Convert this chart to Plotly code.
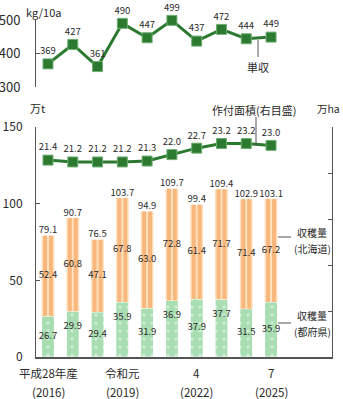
import plotly.graph_objects as go

# ---- data -------------------------------------------------------------
years = [2016, 2017, 2018, 2019, 2020, 2021, 2022, 2023, 2024, 2025]
yield_kg = [369, 427, 361, 490, 447, 499, 437, 472, 444, 449]          # kg/10a
area_10kha = [21.4, 21.2, 21.2, 21.2, 21.3, 22.0, 22.7, 23.2, 23.2, 23.0]  # 万ha
harvest_hokkaido = [52.4, 60.8, 47.1, 67.8, 63.0, 72.8, 61.4, 71.7, 71.4, 67.2]  # 万t
harvest_prefs = [26.7, 29.9, 29.4, 35.9, 31.9, 36.9, 37.9, 37.7, 31.5, 35.9]     # 万t
harvest_total = [79.1, 90.7, 76.5, 103.7, 94.9, 109.7, 99.4, 109.4, 102.9, 103.1]

tick_pos = [0, 3, 6, 9]
tick_era = ["平成28年産", "令和元", "4", "7"]
tick_year = ["(2016)", "(2019)", "(2022)", "(2025)"]

# ---- styling ----------------------------------------------------------
W, H = 343, 399
FONT = "Noto Sans CJK JP"
TXT = "#2a2a2a"
AX = "#555555"
GREEN_LINE = "#2B7A30"
GREEN_BAR = "#A9DDB2"
ORANGE_BAR = "#F8B77C"
ORANGE_LIGHT = "#FEE0BE"
BAR_W = 0.52          # bar width in category units
STRIPE_W = 0.16       # darker stripes inside the Hokkaido bars
# every other prefecture label sits higher up in its bar
pref_label_raised = [False, True, False, True, False, True, False, True, False, False]


def px(x):
    return x / W


def py(y):
    return 1 - y / H


x = list(range(len(years)))
fig = go.Figure()

# prefectures (bottom segment) with a light dot texture
fig.add_trace(go.Bar(
    x=x, y=harvest_prefs, width=BAR_W, yaxis="y",
    marker=dict(color=GREEN_BAR, line=dict(color="white", width=1),
                pattern=dict(shape=".", fgcolor="white", bgcolor=GREEN_BAR,
                             size=8, solidity=0.12)),
    hoverinfo="skip", showlegend=False))
# Hokkaido (upper segment): pale body with two orange stripes
fig.add_trace(go.Bar(
    x=x, y=harvest_hokkaido, base=harvest_prefs, width=BAR_W, yaxis="y",
    marker=dict(color=ORANGE_LIGHT, line=dict(width=0)),
    hoverinfo="skip", showlegend=False))
for off in (-0.2, 0.04):
    fig.add_trace(go.Bar(
        x=x, y=harvest_hokkaido, base=harvest_prefs, width=STRIPE_W, offset=off,
        yaxis="y", marker=dict(color=ORANGE_BAR, line=dict(width=0)),
        hoverinfo="skip", showlegend=False))

# bar value labels
pref_label_y = [v - 10 if r else v / 2 for v, r in zip(harvest_prefs, pref_label_raised)]
hok_label_y = [p + h / 2 for p, h in zip(harvest_prefs, harvest_hokkaido)]
label_font = dict(family=FONT, size=9.5, color=TXT)
fig.add_trace(go.Scatter(x=x, y=pref_label_y, mode="text", yaxis="y",
                         text=[f"{v:.1f}" for v in harvest_prefs],
                         textfont=label_font, hoverinfo="skip", showlegend=False,
                         cliponaxis=False))
fig.add_trace(go.Scatter(x=x, y=hok_label_y, mode="text", yaxis="y",
                         text=[f"{v:.1f}" for v in harvest_hokkaido],
                         textfont=label_font, hoverinfo="skip", showlegend=False,
                         cliponaxis=False))
fig.add_trace(go.Scatter(x=x, y=harvest_total, mode="text", yaxis="y",
                         text=[f"{v:.1f}" for v in harvest_total],
                         textposition="top center",
                         textfont=label_font, hoverinfo="skip", showlegend=False,
                         cliponaxis=False))

# planted area (right scale)
fig.add_trace(go.Scatter(
    x=x, y=area_10kha, yaxis="y2", mode="lines+markers+text",
    line=dict(color=GREEN_LINE, width=3),
    marker=dict(symbol="square", size=10, color=GREEN_LINE,
                line=dict(color="#6FAE72", width=1)),
    text=[f"{v:.1f}" for v in area_10kha], textposition="top center",
    textfont=label_font, hoverinfo="skip", showlegend=False, cliponaxis=False))

# yield per 10a (top panel)
fig.add_trace(go.Scatter(
    x=x, y=yield_kg, yaxis="y3", mode="lines+markers+text",
    line=dict(color=GREEN_LINE, width=3),
    marker=dict(symbol="square", size=10, color=GREEN_LINE,
                line=dict(color="#6FAE72", width=1)),
    text=[str(v) for v in yield_kg], textposition="top center",
    textfont=label_font, hoverinfo="skip", showlegend=False, cliponaxis=False))

axis_common = dict(showline=True, linecolor=AX, linewidth=1, ticks="inside",
                   ticklen=4, tickcolor=AX, showgrid=False, zeroline=False,
                   automargin=False)

annotations = []


def note(text, x0, y0, size=11, xanchor="center"):
    annotations.append(dict(text=text, x=px(x0), y=py(y0), xref="paper", yref="paper",
                            xanchor=xanchor, yanchor="middle", showarrow=False,
                            font=dict(family=FONT, size=size, color=TXT)))


for pos, era, yr in zip(tick_pos, tick_era, tick_year):
    cx = 48 + pos * 24.78
    note(era, cx, 373, size=11.5)
    note(yr, cx, 392, size=11.5)

note("kg/10a", 43, 12)
note("万t", 37, 108)
note("万ha", 342, 108, size=10.5, xanchor="right")
note("作付面積(右目盛)", 254, 110)
note("単収", 258, 67)
note("収穫量", 295, 232, size=10, xanchor="left")
note("(北海道)", 292, 248, size=10, xanchor="left")
note("収穫量", 295, 315, size=10, xanchor="left")
note("(都府県)", 292, 331, size=10, xanchor="left")

shapes = [
    dict(type="line", xref="paper", yref="paper", x0=px(256), x1=px(256),
         y0=py(117), y1=py(146), line=dict(color=AX, width=1)),
    dict(type="line", xref="paper", yref="paper", x0=px(258), x1=px(258),
         y0=py(40), y1=py(57), line=dict(color=AX, width=1)),
    dict(type="line", xref="paper", yref="paper", x0=px(278), x1=px(291),
         y0=py(237), y1=py(237), line=dict(color=AX, width=1)),
    dict(type="line", xref="paper", yref="paper", x0=px(278), x1=px(291),
         y0=py(323), y1=py(323), line=dict(color=AX, width=1)),
]

fig.update_layout(
    width=W, height=H, margin=dict(l=0, r=0, t=0, b=0, autoexpand=False),
    paper_bgcolor="white", plot_bgcolor="white",
    barmode="overlay",
    xaxis=dict(domain=[px(36), px(332)], range=[-0.484, 11.46],
               showline=True, linecolor=AX, linewidth=1.5, showticklabels=False,
               ticks="", showgrid=False, zeroline=False, automargin=False),
    yaxis=dict(domain=[py(357), py(127)], range=[0, 150], tickvals=[0, 50, 100, 150],
               ticklabelstandoff=10, tickfont=dict(family=FONT, size=12, color=TXT),
               **axis_common),
    yaxis2=dict(overlaying="y", side="right", anchor="x", range=[0, 25],
                tickvals=[0, 5, 10, 15, 20, 25], showticklabels=False,
                **axis_common),
    yaxis3=dict(domain=[py(87), py(20)], range=[300, 500], anchor="x",
                tickvals=[300, 400, 500], ticklabelstandoff=12,
                tickfont=dict(family=FONT, size=13, color=TXT), **axis_common),
    annotations=annotations, shapes=shapes,
)

fig.write_html("out.html")
